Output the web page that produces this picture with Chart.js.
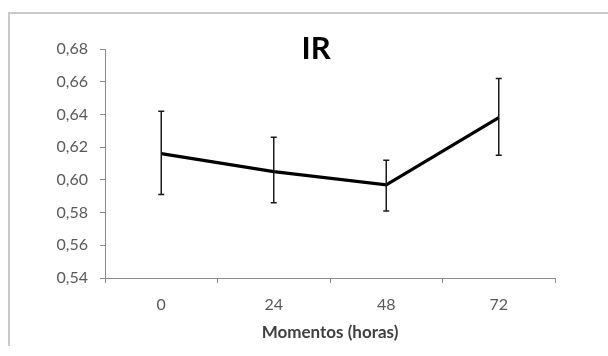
<!DOCTYPE html>
<html>
<head>
<meta charset="utf-8">
<script src="https://cdn.jsdelivr.net/npm/chart.js@4/dist/chart.umd.min.js"></script>
<style>
  body { margin: 0; background: #fff; }
  #wrap { position: relative; width: 608px; height: 356px; }
  #frame { position: absolute; left: 8px; top: 12px; right: 0; bottom: 10px;
           border-left: 2px solid #c9c9c9; border-top: 2px solid #c9c9c9; }
  canvas { position: absolute; left: 0; top: 0; }
</style>
</head>
<body>
<div id="wrap">
  <div id="frame"></div>
  <canvas id="irChart" width="608" height="356"></canvas>
</div>
<script>
const momentos = ['0', '24', '48', '72'];
const irMedia = [0.616, 0.605, 0.597, 0.638];
const irSuperior = [0.642, 0.626, 0.612, 0.662];
const irInferior = [0.591, 0.586, 0.581, 0.615];
const yTicks = ['0,54', '0,56', '0,58', '0,60', '0,62', '0,64', '0,66', '0,68'];

// error bars + title overlay
const errorBars = {
  id: 'errorBars',
  afterDatasetsDraw(chart) {
    const { ctx, scales } = chart;
    ctx.save();
    ctx.strokeStyle = '#1a1a1a';
    ctx.lineWidth = 1.5;
    momentos.forEach((m, i) => {
      const x = scales.x.getPixelForValue(i);
      const yT = scales.y.getPixelForValue(irSuperior[i]);
      const yB = scales.y.getPixelForValue(irInferior[i]);
      ctx.beginPath();
      ctx.moveTo(x, yT); ctx.lineTo(x, yB);
      ctx.moveTo(x - 3, yT); ctx.lineTo(x + 3, yT);
      ctx.moveTo(x - 3, yB); ctx.lineTo(x + 3, yB);
      ctx.stroke();
    });
    ctx.fillStyle = '#000';
    ctx.font = 'bold 31px Lato';
    ctx.textAlign = 'center';
    ctx.textBaseline = 'middle';
    ctx.fillText('IR', 316, 49);
    ctx.restore();
  }
};

const ctx = document.getElementById('irChart').getContext('2d');
new Chart(ctx, {
  type: 'line',
  data: {
    labels: momentos,
    datasets: [{
      label: 'IR',
      data: irMedia,
      borderColor: '#000000',
      borderWidth: 3.2,
      pointRadius: 0,
      tension: 0
    }]
  },
  plugins: [errorBars],
  options: {
    responsive: false,
    animation: false,
    layout: { padding: { left: 55, right: 53, top: 49, bottom: 13 } },
    plugins: {
      legend: { display: false },
      tooltip: { enabled: false }
    },
    scales: {
      x: {
        offset: true,
        afterFit(scale) { scale.height = 65; },
        border: { color: '#8c8c8c', width: 1 },
        grid: { offset: true, drawOnChartArea: false, tickLength: 5, color: '#8c8c8c' },
        ticks: { color: '#595959', padding: 12, font: { family: 'Lato', size: 16 } },
        title: {
          display: true,
          text: 'Momentos (horas)',
          color: '#404040',
          padding: { top: 8, bottom: 0 },
          font: { family: 'Lato', size: 17, weight: 'bold' }
        }
      },
      y: {
        min: 0.54,
        max: 0.68,
        afterFit(scale) { scale.width = 50; },
        border: { color: '#8c8c8c', width: 1 },
        grid: { drawOnChartArea: false, tickLength: 5, color: '#8c8c8c' },
        ticks: {
          stepSize: 0.02,
          color: '#595959',
          padding: 12,
          font: { family: 'Lato', size: 16 },
          callback: (v, i) => yTicks[i]
        }
      }
    }
  }
});
</script>
</body>
</html>
